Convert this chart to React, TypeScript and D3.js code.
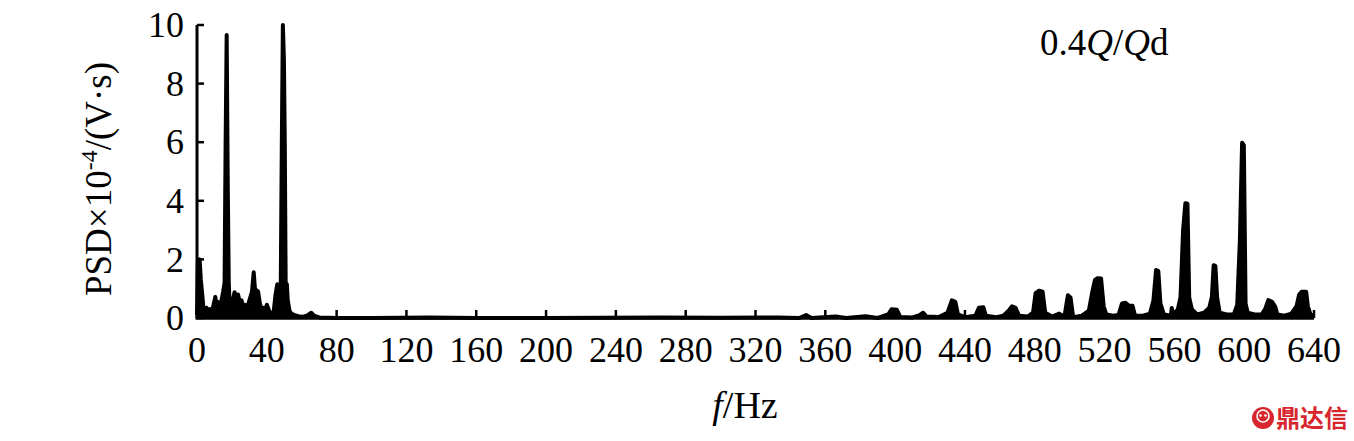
import * as d3 from "d3";

// frequency (Hz) and PSD (x10^-4 V·s)
const FREQ = [
  0, 0.5, 1.5, 2.2, 3, 3.6, 4.5, 5.5, 6.5, 7.5, 8.5, 9.5, 10.5, 11.2, 12, 13, 14, 15, 15.8, 16.4, 17, 17.6, 18.2, 18.8, 19.5,
  20.5, 21.5, 22.5, 23.5, 24.5, 25.5, 26.5, 27.5, 28.5, 29.5, 30.5, 31.5, 32.5, 33.2, 34, 35, 36, 37, 38, 39, 40, 41, 42, 43,
  44, 45, 46, 47, 48, 48.6, 49.2, 49.8, 50.3, 50.8, 51.5, 52, 53, 54, 56, 58, 60, 63, 65.5, 67, 70,
  80, 100, 133, 160, 200, 265, 300, 333, 345, 349, 352, 366, 372, 383, 390, 396, 398, 401, 403, 410, 414, 416, 418, 425,
  430, 432.5, 434.5, 436, 440, 446, 448, 450.5, 452, 458, 462, 465, 467, 469, 471, 476, 479, 480.5, 482.5, 484.5, 486, 490,
  494, 497, 499, 500.5, 502, 507, 511, 513, 514.5, 516, 518, 519.5, 521, 525, 528, 530, 532, 534, 536, 537.5, 542, 546, 548,
  549.5, 550.8, 552, 554, 558, 558.5, 559.5, 562, 563.5, 565, 566.3, 567.5, 568.5, 570, 573, 577, 580, 581.5, 582.5, 583.5,
  584.5, 586, 590, 594, 596, 597.5, 598.8, 599.8, 600.8, 602, 606, 610, 612, 613.8, 616, 617.8, 619, 623, 627, 630, 631.5,
  633, 635.5, 636.5, 638, 640,
];
const PSD = [
  0.1, 1.9, 2.0, 1.3, 0.8, 0.4, 0.25, 0.35, 0.2, 0.3, 0.2, 0.45, 0.72, 0.4, 0.55, 0.35, 0.6, 0.9, 1.2, 6.0, 9.66, 4.7, 1.2, 0.3, 0.1,
  0.6, 0.88, 0.7, 0.8, 0.55, 0.6, 0.4, 0.45, 0.3, 0.5, 0.7, 0.9, 1.56, 1.0, 0.95, 0.9, 0.5, 0.3, 0.35, 0.2, 0.45, 0.3, 0.15, 0.1,
  0.25, 0.8, 1.15, 1.0, 1.2, 6.0, 10.0, 8.8, 6.0, 1.2, 1.15, 0.6, 0.25, 0.15, 0.1, 0.06, 0.04, 0.08, 0.18, 0.08, 0.02,
  0.0, 0.0, 0.02, 0.0, 0.0, 0.02, 0.01, 0.02, 0.0, 0.1, 0.0, 0.05, 0.0, 0.06, 0.0, 0.12, 0.3, 0.28, 0.03, 0.02, 0.1, 0.18, 0.05, 0.03,
  0.18, 0.6, 0.55, 0.12, 0.03, 0.08, 0.35, 0.37, 0.08, 0.03, 0.08, 0.25, 0.4, 0.35, 0.08, 0.05, 0.18, 0.85, 0.93, 0.9, 0.18, 0.05,
  0.15, 0.04, 0.78, 0.7, 0.03, 0.08, 0.25, 0.9, 1.3, 1.36, 1.35, 0.4, 0.12, 0.08, 0.1, 0.5, 0.52, 0.42, 0.42, 0.08, 0.08, 0.15, 0.6,
  1.64, 1.6, 0.5, 0.12, 0.08, 0.34, 0.08, 0.3, 0.7, 3.0, 3.92, 3.9, 0.7, 0.3, 0.12, 0.18, 0.35, 0.73, 1.8, 1.78,
  0.7, 0.18, 0.12, 0.12, 0.45, 2.6, 5.98, 5.9, 0.5, 0.18, 0.12, 0.12, 0.3, 0.61, 0.55, 0.38, 0.12, 0.08, 0.15, 0.4, 0.8,
  0.9, 0.9, 0.4, 0.12, 0.08,
];
const X_TICKS = [0, 40, 80, 120, 160, 200, 240, 280, 320, 360, 400, 440, 480, 520, 560, 600, 640];
const Y_TICKS = [0, 2, 4, 6, 8, 10];

const W = 1354;
const H = 441;
const FONT = "'Liberation Serif', 'Times New Roman', serif";

export default function App() {
  const x = d3.scaleLinear().domain([0, 640]).range([197, 1314]);
  const y = d3.scaleLinear().domain([0, 10]).range([318, 25]);
  const pts = FREQ.map((f, i) => [f, PSD[i]] as [number, number]);
  const line = d3
    .line<[number, number]>()
    .x((d) => x(d[0]))
    .y((d) => y(d[1]));
  const area = d3
    .area<[number, number]>()
    .x((d) => x(d[0]))
    .y0(y(0))
    .y1((d) => y(d[1]));

  return (
    <svg
      width={W}
      height={H}
      style={{ position: "absolute", left: 0, top: 0, background: "#fff" }}
      fontFamily={FONT}
    >
      {/* trace: dense spectrum drawn as a filled thick line */}
      <path d={area(pts) ?? ""} fill="#000" />
      <path d={line(pts) ?? ""} fill="none" stroke="#000" strokeWidth={4} strokeLinejoin="round" />

      {/* axes */}
      <line x1={x(0)} x2={x(0)} y1={y(10)} y2={y(0)} stroke="#000" strokeWidth={3} />
      <line x1={x(0) - 1.5} x2={x(640)} y1={y(0)} y2={y(0)} stroke="#000" strokeWidth={3.5} />
      {Y_TICKS.map((t) => (
        <g key={"y" + t}>
          <line x1={x(0)} x2={x(0) + 7} y1={y(t)} y2={y(t)} stroke="#000" strokeWidth={2.5} />
          <text x={184} y={y(t)} dy="0.34em" textAnchor="end" fontSize={36}>
            {t}
          </text>
        </g>
      ))}
      {X_TICKS.map((t) => (
        <g key={"x" + t}>
          <line x1={x(t)} x2={x(t)} y1={y(0)} y2={y(0) - 8} stroke="#000" strokeWidth={2.5} />
          <text x={x(t)} y={y(0) + 44} textAnchor="middle" fontSize={36}>
            {t}
          </text>
        </g>
      ))}

      {/* axis titles */}
      <text transform="translate(111,179) rotate(-90)" textAnchor="middle" fontSize={37}>
        PSD×10
        <tspan fontSize={24} dy={-14}>
          -4
        </tspan>
        <tspan dy={14}>/(V·s)</tspan>
      </text>
      <text x={745} y={418} textAnchor="middle" fontSize={38}>
        <tspan fontStyle="italic">f</tspan>/Hz
      </text>

      {/* condition label */}
      <text x={1040} y={55} fontSize={37}>
        0.4<tspan fontStyle="italic">Q</tspan>/<tspan fontStyle="italic">Q</tspan>d
      </text>

      {/* watermark */}
      <g>
        <circle cx={1263} cy={418} r={11} fill="#d7262e" />
        <circle cx={1263} cy={416} r={6} fill="none" stroke="#fff" strokeWidth={1.6} />
        <circle cx={1260.5} cy={415.5} r={1.3} fill="#fff" />
        <circle cx={1265.5} cy={415.5} r={1.3} fill="#fff" />
        <text x={1276} y={427} fontSize={24} fontWeight="bold" fill="#d7262e" fontFamily="'Noto Sans CJK SC', sans-serif">
          鼎达信
        </text>
      </g>
    </svg>
  );
}
